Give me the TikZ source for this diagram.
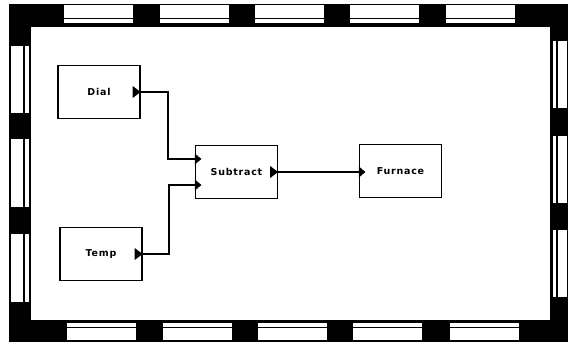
\documentclass[tikz,border=0pt]{standalone}
\usepackage{fontspec}
\newfontfamily\blockfont[LetterSpace=8]{DejaVu Sans}
\usetikzlibrary{calc}

\begin{document}
\begin{tikzpicture}[x=1pt,y=-1pt,
  blockbox/.style={draw=black,line width=1.2pt,fill=white,minimum width=82pt,minimum height=53pt,
    inner sep=0pt,font=\blockfont\bfseries\fontsize{9.5}{10}\selectfont},
  wire/.style={draw=black,line width=1.3pt},
  port/.style={fill=black}]
\useasboundingbox (0,0) rectangle (568,345);

% window frame
\fill[black] (9,4) rectangle (568,342);
\fill[white] (31,27) rectangle (550,320);
% top frame panels
\foreach \a in {64,160,255,350,446}{
  \fill[white] (\a,5.5) rectangle ({\a+69},18);
  \fill[white] (\a,19.5) rectangle ({\a+69},23.5);
}
% bottom frame panels
\foreach \a in {67,163,258,353,450}{
  \fill[white] (\a,322.5) rectangle ({\a+69},326.5);
  \fill[white] (\a,328) rectangle ({\a+69},340);
}
% left frame panels
\foreach \a/\b in {46.5/113,139/206.5,234/302}{
  \fill[white] (11,\a) rectangle (23,\b);
  \fill[white] (24.5,\a) rectangle (28.5,\b);
}
% right frame panels
\foreach \a/\b in {41/108,136/203,230/297}{
  \fill[white] (552.5,\a) rectangle (556,\b);
  \fill[white] (557.5,\a) rectangle (566.5,\b);
}

% blocks
\node[blockbox] (dial) at (99,92) {Dial};
\node[blockbox] (temp) at (101,254) {Temp};
\node[blockbox] (sub) at (236.5,172) {Subtract};
\node[blockbox] (furn) at (400.5,171) {Furnace};

% port positions
\coordinate (sin1) at ($(sub.west)+(0,-13)$);
\coordinate (sin2) at ($(sub.west)+(0,13)$);
\coordinate (fin) at (furn.west |- sub.east);
\coordinate (j1) at (168,0);
\coordinate (j2) at (169,0);

% connectors
\draw[wire] (dial.east) -- (dial.east -| j1) |- (sin1);
\draw[wire] (temp.east) -- (temp.east -| j2) |- (sin2);
\draw[wire] (sub.east) -- (fin);

% port markers
\foreach \p in {dial.east,temp.east,sub.east}{
  \fill[port,shift={(\p)}] (-8,-6) -- (0,0) -- (-8,6) -- cycle;
}
\foreach \p in {sin1,sin2,fin}{
  \fill[port,shift={(\p)}] (0,-5.5) -- (6.5,0) -- (0,5.5) -- cycle;
}
\end{tikzpicture}
\end{document}
